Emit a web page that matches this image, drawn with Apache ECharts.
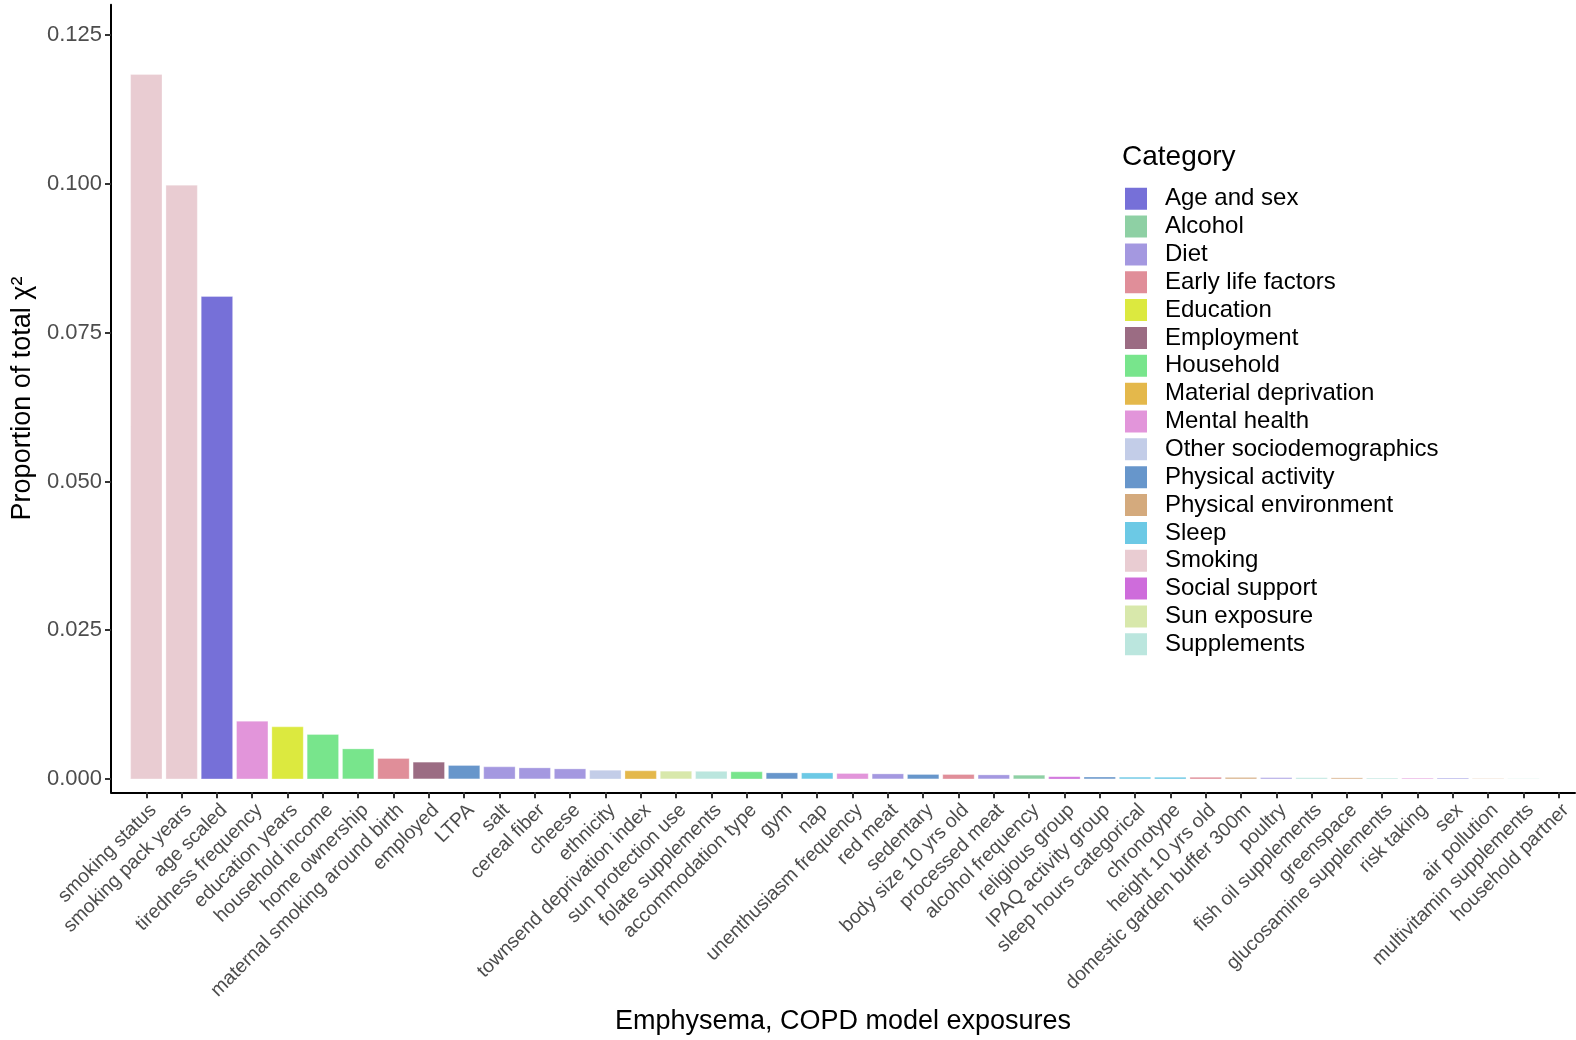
<!DOCTYPE html>
<html>
<head>
<meta charset="utf-8">
<script src="https://cdn.jsdelivr.net/npm/echarts@6/dist/echarts.min.js"></script>
<style>html,body{margin:0;padding:0;background:#fff}#c{width:1576px;height:1040px}</style>
</head>
<body>
<div id="c"></div>
<script>
const exposures = ["smoking status","smoking pack years","age scaled","tiredness frequency","education years","household income","home ownership","maternal smoking around birth","employed","LTPA","salt","cereal fiber","cheese","ethnicity","townsend deprivation index","sun protection use","folate supplements","accommodation type","gym","nap","unenthusiasm frequency","red meat","sedentary","body size 10 yrs old","processed meat","alcohol frequency","religious group","IPAQ activity group","sleep hours categorical","chronotype","height 10 yrs old","domestic garden buffer 300m","poultry","fish oil supplements","greenspace","glucosamine supplements","risk taking","sex","air pollution","multivitamin supplements","household partner"];
const values = [0.1184,0.0998,0.0811,0.00974,0.00879,0.00751,0.00509,0.00348,0.00286,0.0023,0.00207,0.0019,0.00173,0.00151,0.0014,0.00134,0.00132,0.00123,0.00106,0.00105,0.00096,0.00089,0.00079,0.00078,0.00072,0.00067,0.00039,0.00036,0.00034,0.00033,0.00032,0.00029,0.00025,0.00023,0.00022,0.00019,0.00017,0.00015,0.0001,0.00007,0.00003];
const groups = ["Smoking","Smoking","Age and sex","Mental health","Education","Household","Household","Early life factors","Employment","Physical activity","Diet","Diet","Diet","Other sociodemographics","Material deprivation","Sun exposure","Supplements","Household","Physical activity","Sleep","Mental health","Diet","Physical activity","Early life factors","Diet","Alcohol","Social support","Physical activity","Sleep","Sleep","Early life factors","Physical environment","Diet","Supplements","Physical environment","Supplements","Mental health","Age and sex","Physical environment","Supplements","Household"];
const categoryNames = ["Age and sex","Alcohol","Diet","Early life factors","Education","Employment","Household","Material deprivation","Mental health","Other sociodemographics","Physical activity","Physical environment","Sleep","Smoking","Social support","Sun exposure","Supplements"];
const categoryColors = ["#7670D8","#8ED0A4","#A498E0","#E08E99","#DCE93F","#9B6C83","#78E58C","#E4B84B","#E295DA","#C3CDE8","#6796CB","#D4AA7D","#6CC9E5","#E9CCD2","#CE6CDB","#D8E8AB","#BBE6DE"];
const yTicks = [0, 0.025, 0.05, 0.075, 0.1, 0.125];

const FONT = '"Liberation Sans", Arial, Helvetica, sans-serif';
const xPositions = exposures.map((_, i) => i + 1);

const series = categoryNames.map((name, k) => ({
  name: name,
  type: 'bar',
  barWidth: 31.7,
  barGap: '-100%',
  itemStyle: { color: categoryColors[k], borderColor: '#ffffff', borderWidth: 0.3 },
  data: values.map((v, i) => groups[i] === name ? [xPositions[i], v] : null).filter(d => d !== null)
}));

const chart = echarts.init(document.getElementById('c'), null, { renderer: 'canvas' });
chart.setOption({
  animation: false,
  backgroundColor: '#ffffff',
  textStyle: { fontFamily: FONT },
  title: {
    text: 'Category', left: 1117, top: 138, padding: [5, 5, 5, 5],
    textStyle: { fontFamily: FONT, fontSize: 28, fontWeight: 'normal', color: '#000' }
  },
  legend: {
    orient: 'vertical', left: 1123, top: 185.7, padding: 0,
    itemWidth: 24, itemHeight: 24, itemGap: 1.85, icon: 'rect',
    data: categoryNames,
    textStyle: { fontFamily: FONT, fontSize: 24, color: '#000', lineHeight: 24, padding: [0, 0, 0, 12] }
  },
  grid: { left: 111, top: 4.7, right: 1, bottom: 247.7, containLabel: false, outerBoundsMode: 'none' },
  xAxis: {
    type: 'value', min: 0, max: 41.46,
    name: 'Emphysema, COPD model exposures', nameLocation: 'middle', nameGap: 213,
    nameTextStyle: { fontFamily: FONT, fontSize: 27, color: '#000' },
    splitLine: { show: false },
    axisLine: { show: true, onZero: false, lineStyle: { color: '#000', width: 2 } },
    axisTick: { show: true, length: 6, customValues: xPositions, lineStyle: { color: '#333', width: 2 } },
    axisLabel: {
      customValues: xPositions, rotate: 45, margin: 8, verticalAlign: 'top',
      fontFamily: FONT, fontSize: 19.5, color: '#4D4D4D',
      formatter: v => exposures[Math.round(v) - 1] || ''
    }
  },
  yAxis: {
    type: 'value', min: -0.00223, max: 0.1301,
    name: 'Proportion of total χ²', nameLocation: 'middle', nameRotate: 90, nameGap: 65,
    nameTextStyle: { fontFamily: FONT, fontSize: 27, color: '#000' },
    splitLine: { show: false },
    axisLine: { show: true, onZero: false, lineStyle: { color: '#000', width: 2 } },
    axisTick: { show: true, length: 6, customValues: yTicks, lineStyle: { color: '#333', width: 2 } },
    axisLabel: {
      customValues: yTicks, margin: 9, fontFamily: FONT, fontSize: 22, color: '#4D4D4D',
      formatter: v => v.toFixed(3)
    }
  },
  series: series
});
</script>
</body>
</html>
